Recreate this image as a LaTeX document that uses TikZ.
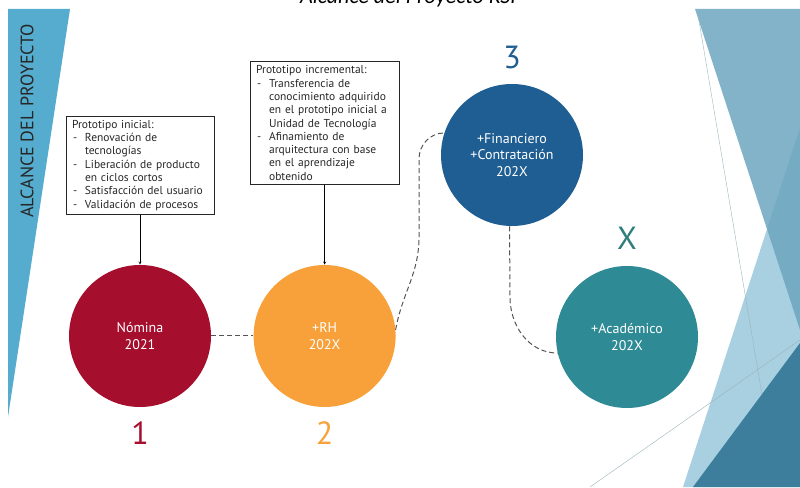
\documentclass[tikz,border=0pt]{standalone}
\usepackage{fontspec}
\setmainfont{PT Sans}
\newfontfamily\titlefont{Carlito}
\usepackage{tikz}
\usetikzlibrary{positioning, arrows}

\definecolor{nomina}{HTML}{A50F2D}
\definecolor{rhorange}{HTML}{F8A13A}
\definecolor{finblue}{HTML}{1F5E92}
\definecolor{acateal}{HTML}{2E8A95}
\definecolor{numteal}{HTML}{2F7D7D}
\definecolor{bandblue}{HTML}{55ACCE}
\definecolor{facetmid}{HTML}{6DA6C0}
\definecolor{facetlight}{HTML}{A8D0E0}
\definecolor{facetdark}{HTML}{3C7E9B}
\definecolor{facetline}{HTML}{9BB4BC}
\definecolor{linkgray}{HTML}{555555}

\newcommand{\guion}{\makebox[13pt][l]{\hspace{1pt}-}}
\newcommand{\sangria}{\hspace*{13pt}}

\begin{document}
\begin{tikzpicture}[x=1pt, y=1pt, >=stealth, semithick]
\tikzstyle{stage}=[circle, minimum size=142pt, inner sep=0pt, text=white,
                   align=center, font=\fontsize{14}{16.5}\selectfont]
\tikzstyle{note}=[rectangle, draw=black!85, line width=0.7pt, text width=136pt,
                  inner xsep=6pt, inner ysep=4pt, align=left, text=black!85,
                  font=\fontsize{11.5}{13.3}\selectfont]
\tikzstyle{stagenum}=[font=\fontsize{32}{32}\selectfont, inner sep=0pt]
\tikzstyle{link}=[linkgray, dash pattern=on 5pt off 3pt, line width=1pt]

  \useasboundingbox (0,0) rectangle (800,487);
  \clip (0,0) rectangle (800,487);

  % slide decoration
  \fill[bandblue] (8,478) -- (70,478) -- (8,70) -- cycle;
  \fill[facetlight] (683,0) -- (800,359) -- (800,0) -- cycle;
  \fill[facetmid, opacity=0.85] (695,478) -- (800,478) -- (800,157) -- cycle;
  \fill[facetdark] (693,0) -- (800,144) -- (800,0) -- cycle;
  \draw[facetline, thin] (697,478) -- (762,92);
  \draw[facetline, thin] (590,0) -- (800,147);

  \node[font=\titlefont\itshape\fontsize{22}{22}\selectfont, anchor=base]
       (titulo) at (408,483.5) {Alcance del Proyecto RSI};
  \node[rotate=90, text=black!85, font=\fontsize{18}{18}\selectfont]
       (alcance) at (27,366) {ALCANCE DEL PROYECTO};

  % stages
  \node[stage, fill=nomina] (nomina) at (140,151) {Nómina\\2021};
  \node[stage, fill=rhorange, right=42pt of nomina] (rh) {+RH\\202X};
  \node[stage, fill=finblue] (fin) at (512,332)
       {+Financiero\\+Contratación\\202X};
  \node[stage, fill=acateal] (aca) at (627,150) {+Académico\\202X};

  \node[stagenum, text=nomina, below=14pt of nomina] (uno) {1};
  \node[stagenum, text=rhorange, below=14pt of rh] (dos) {2};
  \node[stagenum, text=finblue, above=15pt of fin] (tres) {3};
  \node[stagenum, text=numteal, above=16pt of aca] (equis) {X};

  % prototypes
  \node[note, above=50pt of nomina] (inicial)
       {Prototipo inicial:\\
        \guion Renovación de\\
        \sangria tecnologías\\
        \guion Liberación de producto\\
        \sangria en ciclos cortos\\
        \guion Satisfacción del usuario\\
        \guion Validación de procesos};
  \node[note, text width=137pt, above=80pt of rh] (incremental)
       {Prototipo incremental:\\
        \guion Transferencia de\\
        \sangria conocimiento adquirido\\
        \sangria en el prototipo inicial a\\
        \sangria Unidad de Tecnología\\
        \guion Afinamiento de\\
        \sangria arquitectura con base\\
        \sangria en el aprendizaje\\
        \sangria obtenido};

  \draw[->, thin] (inicial) -- (nomina);
  \draw[->, thin] (incremental) -- (rh);

  % dashed timeline
  \coordinate (subida) at (419,250);
  \coordinate (cima) at (419,328);
  \coordinate (bajada) at (510,190);
  \draw[link] (nomina) -- (rh);
  \draw[link] (rh.5) to[out=80, in=-90] (subida) -- (cima)
              to[out=90, in=180] (fin.162);
  \draw[link] (fin.-92) -- (bajada) to[out=-90, in=180] (aca.193);
\end{tikzpicture}
\end{document}
